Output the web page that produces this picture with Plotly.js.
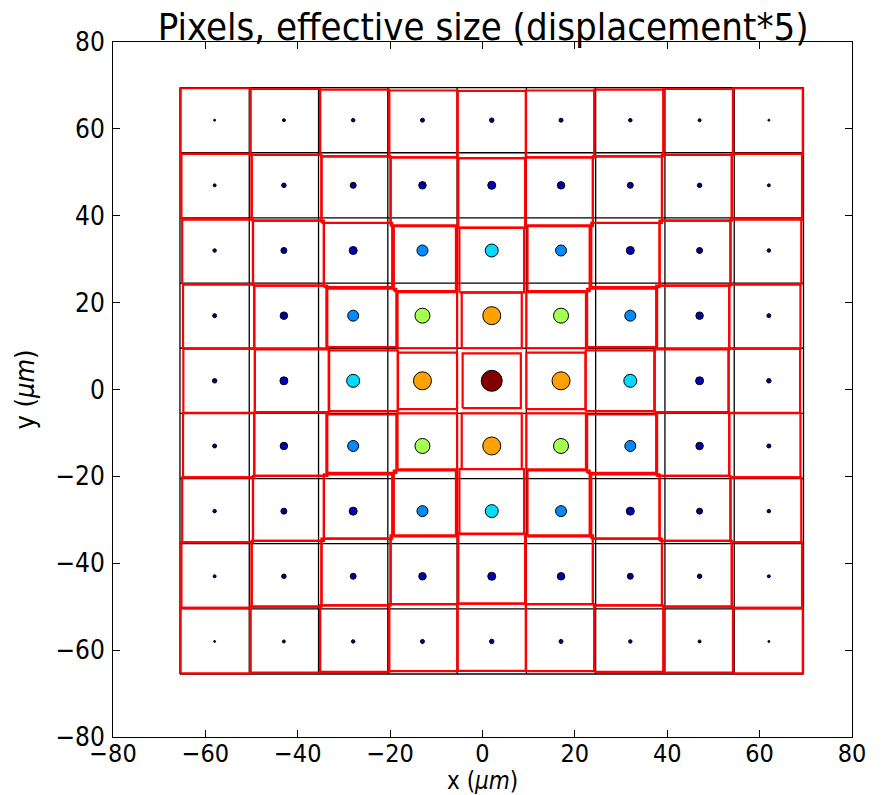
<!DOCTYPE html>
<html>
<head>
<meta charset="utf-8">
<script src="https://cdn.plot.ly/plotly-3.0.1.min.js"></script>
<style>body{margin:0;background:#fff}#chart{width:884px;height:795px}</style>
</head>
<body>
<div id="chart"></div>
<script>
// ---- data ----
const pixelCentersX = [-58, -43, -28, -13, 2, 17, 32, 47, 62];   // µm
const pixelCentersY = [-58, -43, -28, -13, 2, 17, 32, 47, 62];   // µm
const tickValues = [-80, -60, -40, -20, 0, 20, 40, 60, 80];

// quarter tables indexed [|column offset|][|row offset|] from the central pixel
// signal shown by the dot colour (0..1)
const signal = [
  [1.00, 0.74, 0.34, 0.05, 0.004],
  [0.74, 0.55, 0.26, 0.04, 0.003],
  [0.34, 0.26, 0.05, 0.015, 0.002],
  [0.05, 0.04, 0.015, 0.003, 0.001],
  [0.004, 0.003, 0.002, 0.001, 0.0]
];
// dot diameter (px)
const dotDiameter = [
  [22, 19, 14, 9, 5.5],
  [19, 16, 12, 8.5, 5],
  [14, 12, 9, 7, 4.5],
  [9, 8.5, 7, 5.5, 4],
  [5.5, 5, 4.5, 4, 3]
];
// displacement*5 of pixel edges along the column direction (µm, toward the centre)
// row a=0: lateral shrink of both edges
const edgeShiftOuter = [
  [1.2, 1.0, 0.5, 0.27, 0.12],
  [2.2, 2.1, 1.3, 0.6, 0.29],
  [2.2, 1.7, 1.15, 0.64, 0.33],
  [1.22, 1.08, 0.81, 0.52, 0.26],
  [0.73, 0.66, 0.48, 0.32, 0.15]
];
const edgeShiftInner = [
  [1.2, 1.0, 0.5, 0.27, 0.12],
  [0.0, 0.0, -0.25, 0.15, 0.08],
  [2.15, 1.85, 0.95, 0.6, 0.29],
  [2.3, 1.9, 1.17, 0.64, 0.33],
  [1.22, 1.08, 0.81, 0.52, 0.26]
];

// ---- build traces ----
const n = pixelCentersX.length;
const mid = (n - 1) / 2;
const half = (pixelCentersX[1] - pixelCentersX[0]) / 2;

function edges(offset, other, center) {
  const a = Math.abs(offset), b = Math.abs(other);
  let lo = center - half, hi = center + half;
  if (a === 0) {
    lo += edgeShiftOuter[0][b]; hi -= edgeShiftOuter[0][b];
  } else if (offset > 0) {
    hi -= edgeShiftOuter[a][b]; lo -= edgeShiftInner[a][b];
  } else {
    lo += edgeShiftOuter[a][b]; hi += edgeShiftInner[a][b];
  }
  return [lo, hi];
}

const gridX = [], gridY = [];
const xMin = pixelCentersX[0] - half, xMax = pixelCentersX[n - 1] + half;
const yMin = pixelCentersY[0] - half, yMax = pixelCentersY[n - 1] + half;
for (let k = 0; k <= n; k++) {
  const bx = pixelCentersX[0] - half + k * 2 * half;
  gridX.push(bx, bx, null); gridY.push(yMin, yMax, null);
  const by = pixelCentersY[0] - half + k * 2 * half;
  gridX.push(xMin, xMax, null); gridY.push(by, by, null);
}

const redX = [], redY = [];
const dotX = [], dotY = [], dotC = [], dotS = [];
for (let r = 0; r < n; r++) {
  for (let c = 0; c < n; c++) {
    const i = c - mid, j = r - mid;
    const cx = pixelCentersX[c], cy = pixelCentersY[r];
    const [x0, x1] = edges(i, j, cx);
    const [y0, y1] = edges(j, i, cy);
    redX.push(x0, x1, x1, x0, x0, null);
    redY.push(y0, y0, y1, y1, y0, null);
    dotX.push(cx); dotY.push(cy);
    dotC.push(signal[Math.abs(i)][Math.abs(j)]);
    dotS.push(dotDiameter[Math.abs(i)][Math.abs(j)] - 1);
  }
}

const jet = [
  [0, 'rgb(0,0,128)'], [0.11, 'rgb(0,0,255)'], [0.125, 'rgb(0,0,255)'],
  [0.34, 'rgb(0,219,255)'], [0.35, 'rgb(0,229,247)'], [0.375, 'rgb(20,255,226)'],
  [0.64, 'rgb(238,255,8)'], [0.65, 'rgb(247,245,0)'], [0.66, 'rgb(255,236,0)'],
  [0.89, 'rgb(255,19,0)'], [0.91, 'rgb(232,0,0)'], [1, 'rgb(128,0,0)']
];

const traces = [
  {x: gridX, y: gridY, mode: 'lines', line: {color: 'black', width: 1.3}, hoverinfo: 'skip', showlegend: false},
  {x: redX, y: redY, mode: 'lines', line: {color: 'rgb(255,0,0)', width: 2.2}, hoverinfo: 'skip', showlegend: false},
  {x: dotX, y: dotY, mode: 'markers', showlegend: false,
   marker: {color: dotC, colorscale: jet, cmin: 0, cmax: 1, size: dotS, line: {color: 'black', width: 1}, opacity: 1}}
];

const font = 'DejaVu Sans Condensed, DejaVu Sans, sans-serif';
const axisCommon = {
  range: [-80, 80], tickvals: tickValues, ticks: 'inside', ticklen: 7, tickwidth: 1, tickcolor: 'black',
  showline: true, linecolor: 'black', linewidth: 1, mirror: 'ticks', showgrid: false, zeroline: false,
  tickfont: {family: font, size: 26, color: 'black'}, automargin: false
};

const layout = {
  width: 884, height: 795,
  margin: {l: 113, r: 32, t: 42, b: 58},
  paper_bgcolor: 'white', plot_bgcolor: 'white',
  title: {text: 'Pixels, effective size (displacement*5)', font: {family: font, size: 38, color: 'black'},
          x: 0.5465, xanchor: 'center', y: 0.966, yanchor: 'middle', xref: 'container', yref: 'container'},
  xaxis: Object.assign({}, axisCommon, {ticklabelstandoff: -6, tickfont: {family: font, size: 25, color: 'black'}}),
  yaxis: Object.assign({}, axisCommon, {ticklabelstandoff: 2,
         title: {text: 'y (<i>μm</i>)', font: {family: font, size: 27, color: 'black'}, standoff: 12}}),
  annotations: [{text: 'x (<i>μm</i>)', xref: 'paper', yref: 'paper', x: 0.5, y: -0.063,
                 xanchor: 'center', yanchor: 'middle', showarrow: false,
                 font: {family: font, size: 24, color: 'black'}}]
};

Plotly.newPlot('chart', traces, layout, {displayModeBar: false, staticPlot: true});
</script>
</body>
</html>
